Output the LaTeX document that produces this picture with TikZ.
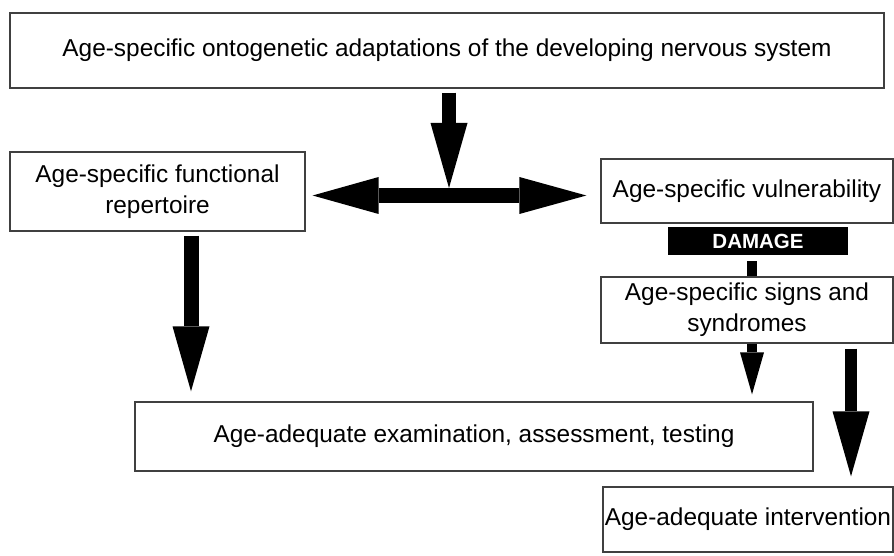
\documentclass[tikz,border=0pt]{standalone}
\usepackage{fontspec}
\setmainfont{Liberation Sans}
\usetikzlibrary{arrows.meta,calc}
\begin{document}
\begin{tikzpicture}[x=1pt,y=-1pt,
  box/.style={draw=black!75,line width=1.3pt,fill=white,align=center,inner sep=0pt,
    font=\fontsize{24.4}{31}\selectfont},
  damagebox/.style={fill=black,text=white,inner sep=0pt,
    font=\fontsize{20.5}{24}\selectfont\bfseries},
  bigarrow/.style={line width=14pt,-{Triangle[length=65pt,width=37pt,line width=0pt]}},
  twoarrow/.style={line width=15pt,{Triangle[length=66pt,width=37pt,line width=0pt]}-{Triangle[length=67pt,width=37pt,line width=0pt]}},
  smallarrow/.style={line width=9.5pt,-{Triangle[length=42pt,width=24pt,line width=0pt]}},
  bar/.style={line width=10pt}]
\useasboundingbox (0,0) rectangle (894,556);
\fill[white] (0,0) rectangle (894,556);

\node[box,minimum width=874pt,minimum height=75pt] (top) at (447,50.5)
  {Age-specific ontogenetic adaptations of the developing nervous system};
\node[box,minimum width=295pt,minimum height=79pt] (func) at (157.5,191.5)
  {Age-specific functional\\repertoire};
\node[box,minimum width=292pt,minimum height=64pt] (vuln) at (747,191)
  {Age-specific vulnerability};
\node[damagebox,minimum width=180pt,minimum height=28pt] (dmg) at (758,241) {DAMAGE};
\node[box,minimum width=292pt,minimum height=66pt] (signs) at (747,310)
  {Age-specific signs and\\syndromes};
\node[box,minimum width=678pt,minimum height=69pt] (exam) at (474,436.5)
  {Age-adequate examination, assessment, testing};
\node[box,minimum width=290pt,minimum height=65pt] (interv) at (748,519.5)
  {Age-adequate intervention};

\coordinate (j) at (449,195.5);
\coordinate (a1) at (191,0);
\coordinate (a2) at (752,0);
\coordinate (a3) at (851,0);

\draw[bigarrow] ([yshift=-4pt]top.south -| j) -- ([yshift=7.5pt]j);
\draw[twoarrow] ([xshift=7pt]func.east |- j) -- ([xshift=-14pt]vuln.west |- j);
\draw[bigarrow,line width=15pt] ([yshift=-4pt]func.south -| a1) -- ([yshift=10pt]exam.north -| a1);
\draw[bar] ([yshift=-6pt]dmg.south -| a2) -- (signs.north -| a2);
\draw[smallarrow] (signs.south -| a2) -- ([yshift=7pt]exam.north -| a2);
\draw[bigarrow,line width=12pt] ([yshift=-5pt]signs.south -| a3) -- ([yshift=10pt]interv.north -| a3);
\end{tikzpicture}
\end{document}
